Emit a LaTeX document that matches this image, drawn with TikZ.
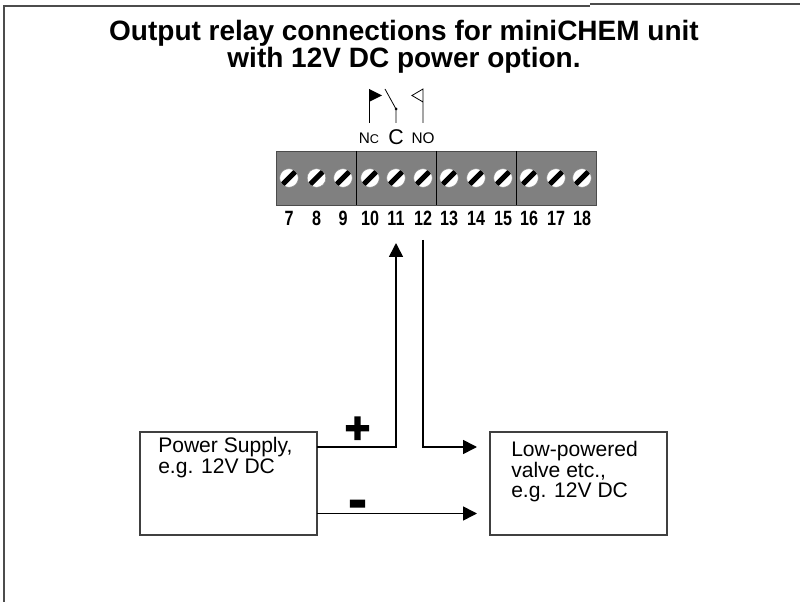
\documentclass[tikz,border=0pt]{standalone}
\usepackage{graphicx}
\usepackage{fontspec}
\setmainfont{Liberation Sans}
\newfontfamily\signfont[FakeBold=3]{Liberation Sans Bold}
\usetikzlibrary{arrows.meta}
\newcommand{\narrownum}[1]{\scalebox{0.78}[1]{#1}}
\tikzset{
  frameline/.style = {line width=1.2pt, draw=black!70},
  boxline/.style = {rectangle, draw=black!75, line width=1.1pt, minimum width=133pt, minimum height=77pt, inner sep=0pt},
  wire/.style = {line width=1.2pt, -{Triangle[length=10.5pt,width=10.5pt]}},
  screw/.style = {circle, draw=black!45, fill=white, line width=0.4pt, minimum size=14pt, inner sep=0pt,
    path picture={\draw[black, line width=3.8pt] (path picture bounding box.south west) -- (path picture bounding box.north east);}},
  termnum/.style = {font=\bfseries\fontsize{15.5}{16}\selectfont, inner sep=0pt},
  boxtext/.style = {font=\fontsize{15.8}{15.5}\selectfont, align=left, anchor=north west, inner sep=0pt}
}
\begin{document}
\begin{tikzpicture}[x=0.75pt, y=-0.75pt]
  \useasboundingbox (0,0) rectangle (800,602);

  \draw[frameline] (4,602) -- (4,6) -- (590,6);
  \draw[frameline] (590,4) -- (800,4);

  \node (title) at (404,46.5) [align=center, font=\bfseries\fontsize{21}{20.5}\selectfont, inner sep=0pt] {Output relay connections for miniCHEM unit\\with 12V DC power option.};

  % terminal block
  \node (block) at (436,178) [rectangle, fill=black!50, draw=black!70, line width=0.7pt, minimum width=240pt, minimum height=40.5pt, inner sep=0pt] {};
  \draw[line width=0.7pt] (356,151) -- (356,205);
  \draw[line width=0.7pt] (436,151) -- (436,205);
  \draw[line width=0.7pt] (516,151) -- (516,205);

  \node (s7) at (289,178) [screw] {};
  \node (s8) at (316.5,178) [screw] {};
  \node (s9) at (343,178) [screw] {};
  \node (s10) at (370,178) [screw] {};
  \node (s11) at (396,178) [screw] {};
  \node (s12) at (423,178) [screw] {};
  \node (s13) at (449,178) [screw] {};
  \node (s14) at (476,178) [screw] {};
  \node (s15) at (503,178) [screw] {};
  \node (s16) at (529,178) [screw] {};
  \node (s17) at (556,178) [screw] {};
  \node (s18) at (582,178) [screw] {};

  \draw (s7) ++ (0,40) node[termnum] (n7) {\narrownum{7}};
  \draw (s8) ++ (0,40) node[termnum] (n8) {\narrownum{8}};
  \draw (s9) ++ (0,40) node[termnum] (n9) {\narrownum{9}};
  \draw (s10) ++ (0,40) node[termnum] (n10) {\narrownum{10}};
  \draw (s11) ++ (0,40) node[termnum] (n11) {\narrownum{11}};
  \draw (s12) ++ (0,40) node[termnum] (n12) {\narrownum{12}};
  \draw (s13) ++ (0,40) node[termnum] (n13) {\narrownum{13}};
  \draw (s14) ++ (0,40) node[termnum] (n14) {\narrownum{14}};
  \draw (s15) ++ (0,40) node[termnum] (n15) {\narrownum{15}};
  \draw (s16) ++ (0,40) node[termnum] (n16) {\narrownum{16}};
  \draw (s17) ++ (0,40) node[termnum] (n17) {\narrownum{17}};
  \draw (s18) ++ (0,40) node[termnum] (n18) {\narrownum{18}};

  % relay contacts
  \node (nc) at (369,138.5) [inner sep=0pt] {\fontsize{11.5}{12}\selectfont N\fontsize{9.5}{12}\selectfont C};
  \node (com) at (396,137) [inner sep=0pt, font=\fontsize{16}{16}\selectfont] {C};
  \node (no) at (423,138.5) [inner sep=0pt] {\fontsize{11.5}{12}\selectfont NO};
  \draw[line width=0.6pt] (369,123) -- (369,89);
  \fill (369,89) -- (382,95.5) -- (369,102) -- cycle;
  \draw[line width=0.6pt] (423,123) -- (423,89) -- (412,95.5) -- (423,102);
  \draw[line width=0.6pt] (396,123) -- (396,109) -- (385,89);
  \fill (396,109) circle (1.5);

  % boxes
  \node (supply) at (228.5,483.5) [boxline] {};
  \node (valve) at (578.5,483.5) [boxline] {};
  \node (supplytext) at (158,437) [boxtext] {Power Supply,\\e.g. 12V DC};
  \node (valvetext) at (511,441) [boxtext] {Low-powered\\valve etc.,\\e.g. 12V DC};

  \coordinate (plusout) at (317,447);
  \coordinate (plusin) at (396,243);
  \coordinate (noout) at (423,240);
  \coordinate (noin) at (477,447);
  \coordinate (minusout) at (317,513.5);
  \coordinate (minusin) at (477,513.5);

  \draw[wire] (plusout) -| (plusin);
  \draw[wire] (noout) |- (noin);
  \draw[wire] (minusout) -- (minusin);

  \node (plus) at (357.5,430) [font=\signfont\fontsize{33}{34}\selectfont, inner sep=0pt] {+};
  \node (minus) at (357.5,509) [font=\signfont\fontsize{40}{40}\selectfont, inner sep=0pt] {-};
\end{tikzpicture}
\end{document}
